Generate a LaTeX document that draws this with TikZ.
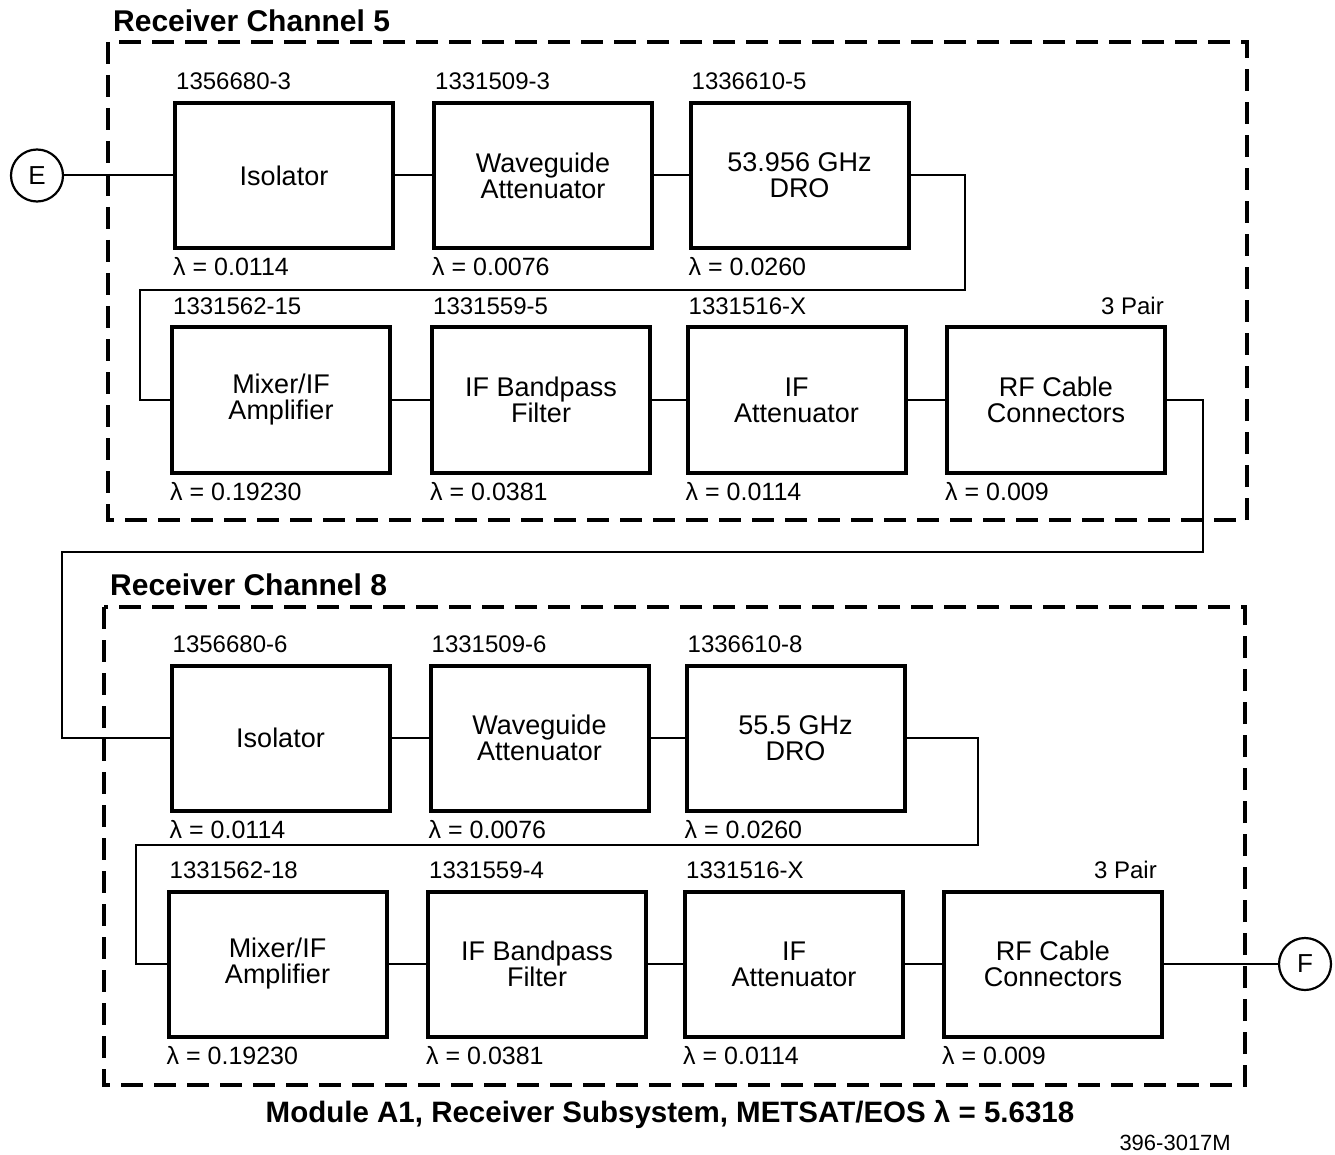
\documentclass[tikz,border=0pt]{standalone}
\usepackage{fontspec}
\setmainfont{Liberation Sans}
\usetikzlibrary{calc}

% one functional block: name, x, y (centre), text, part number, failure rate
\newcommand\rxblock[6]{%
  \node[blk] (#1) at (#2,#3) {#4};
  \node[pn, anchor=base west] (#1-pn) at ($(#1.north west)+(3,-11)$) {#5};
  \node[lam, anchor=base west] (#1-lam) at ($(#1.south west)+(0,26)$) {λ = #6};
}

\begin{document}
\begin{tikzpicture}[x=1pt,y=-1pt,
  blk/.style={draw, line width=4pt, minimum width=218pt, minimum height=145pt,
    inner sep=0pt, align=center, font=\fontsize{27}{26}\selectfont},
  pn/.style={inner sep=0pt, font=\fontsize{24}{24}\selectfont},
  lam/.style={inner sep=0pt, font=\fontsize{25}{25}\selectfont},
  wire/.style={line width=2pt},
  frame/.style={line width=4pt, dash pattern=on 22pt off 11pt},
  term/.style={draw, circle, line width=2.2pt, minimum size=52pt, inner sep=0pt,
    font=\fontsize{26}{26}\selectfont},
  title/.style={inner sep=0pt, anchor=base west, font=\fontsize{30}{30}\selectfont\bfseries}]

\useasboundingbox (0,0) rectangle (1335,1155);

% ---- Receiver Channel 5 ----
\draw[frame] (108,42) rectangle (1247,520);
\node[title] (t5) at (113,32) {Receiver Channel 5};

\rxblock{iso5}{284}{175.5}{Isolator}{1356680-3}{0.0114}
\rxblock{wg5}{543}{175.5}{Waveguide\\Attenuator}{1331509-3}{0.0076}
\rxblock{dro5}{799.5}{175.5}{53.956 GHz\\DRO}{1336610-5}{0.0260}

\rxblock{mix5}{281}{400}{Mixer/IF\\Amplifier}{1331562-15}{0.19230}
\rxblock{bpf5}{541}{400}{IF Bandpass\\Filter}{1331559-5}{0.0381}
\rxblock{att5}{796.5}{400}{IF\\Attenuator}{1331516-X}{0.0114}
\rxblock{rf5}{1056}{400}{RF Cable\\Connectors}{}{0.009}
\node[pn, anchor=base east] (rf5-pr) at ($(rf5.north east)+(-3,-11)$) {3 Pair};

\node[term] (E) at (37,175.5) {E};
\draw[wire] (E) -- (iso5);
\draw[wire] (iso5) -- (wg5);
\draw[wire] (wg5) -- (dro5);
\coordinate (r1a) at (965,290);
\coordinate (r1b) at (140,290);
\draw[wire] (dro5.east) -| (r1a) -- (r1b) |- (mix5.west);
\draw[wire] (mix5) -- (bpf5);
\draw[wire] (bpf5) -- (att5);
\draw[wire] (att5) -- (rf5);

% ---- link between the channels ----
\coordinate (c1) at (1203,552);
\coordinate (c2) at (62,552);

% ---- Receiver Channel 8 ----
\draw[frame] (104,607) rectangle (1245,1085);
\node[title] (t8) at (110,595) {Receiver Channel 8};

\rxblock{iso8}{280.5}{738}{Isolator}{1356680-6}{0.0114}
\rxblock{wg8}{539.5}{738}{Waveguide\\Attenuator}{1331509-6}{0.0076}
\rxblock{dro8}{795.5}{738}{55.5 GHz\\DRO}{1336610-8}{0.0260}

\rxblock{mix8}{277.5}{964}{Mixer/IF\\Amplifier}{1331562-18}{0.19230}
\rxblock{bpf8}{537}{964}{IF Bandpass\\Filter}{1331559-4}{0.0381}
\rxblock{att8}{794}{964}{IF\\Attenuator}{1331516-X}{0.0114}
\rxblock{rf8}{1053}{964}{RF Cable\\Connectors}{}{0.009}
\node[pn, anchor=base east] (rf8-pr) at ($(rf8.north east)+(-7,-11)$) {3 Pair};

\draw[wire] (rf5.east) -| (c1) -- (c2) |- (iso8.west);

\draw[wire] (iso8) -- (wg8);
\draw[wire] (wg8) -- (dro8);
\coordinate (r3a) at (978,845);
\coordinate (r3b) at (136,845);
\draw[wire] (dro8.east) -| (r3a) -- (r3b) |- (mix8.west);
\draw[wire] (mix8) -- (bpf8);
\draw[wire] (bpf8) -- (att8);
\draw[wire] (att8) -- (rf8);

\node[term] (F) at (1305,964) {F};
\draw[wire] (rf8) -- (F);

% ---- captions ----
\node[inner sep=0pt, anchor=base, font=\fontsize{29.5}{30}\selectfont\bfseries] (cap)
  at (670,1122) {Module A1, Receiver Subsystem, METSAT/EOS λ = 5.6318};
\node[inner sep=0pt, anchor=base east, font=\fontsize{22}{22}\selectfont] (num)
  at (1231,1150) {396-3017M};

\end{tikzpicture}
\end{document}
